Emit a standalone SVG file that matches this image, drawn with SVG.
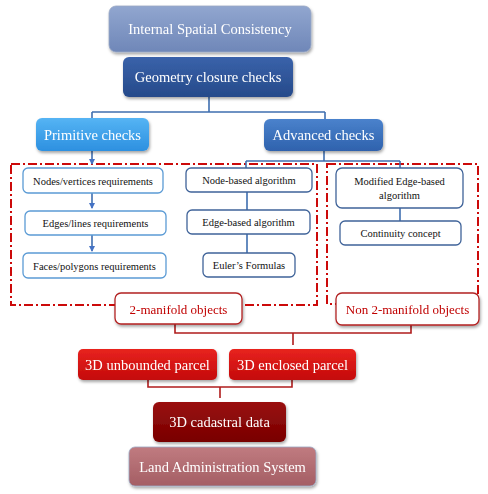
<svg xmlns="http://www.w3.org/2000/svg" width="488" height="494" viewBox="0 0 488 494">
<defs>
<linearGradient id="gTop" x1="0" y1="0" x2="0" y2="1"><stop offset="0" stop-color="#91a6cf"/><stop offset="1" stop-color="#6f87b8"/></linearGradient>
<linearGradient id="gGeo" x1="0" y1="0" x2="0" y2="1"><stop offset="0" stop-color="#3a62aa"/><stop offset="1" stop-color="#264a8a"/></linearGradient>
<linearGradient id="gPrim" x1="0" y1="0" x2="0" y2="1"><stop offset="0" stop-color="#55b4f4"/><stop offset="1" stop-color="#2d90e0"/></linearGradient>
<linearGradient id="gAdv" x1="0" y1="0" x2="0" y2="1"><stop offset="0" stop-color="#4a82cc"/><stop offset="1" stop-color="#2f62ad"/></linearGradient>
<linearGradient id="gRed" x1="0" y1="0" x2="0" y2="1"><stop offset="0" stop-color="#e8231f"/><stop offset="1" stop-color="#c40a0a"/></linearGradient>
<linearGradient id="gDark" x1="0" y1="0" x2="0" y2="1"><stop offset="0" stop-color="#9a0f0f"/><stop offset="1" stop-color="#780000"/></linearGradient>
<linearGradient id="gLand" x1="0" y1="0" x2="0" y2="1"><stop offset="0" stop-color="#c07b80"/><stop offset="1" stop-color="#a45e64"/></linearGradient>
<filter id="sh" x="-10%" y="-20%" width="120%" height="150%"><feDropShadow dx="1" dy="2" stdDeviation="1.5" flood-color="#000" flood-opacity="0.35"/></filter>
<marker id="arr" markerWidth="6" markerHeight="6" refX="5" refY="3" orient="auto" markerUnits="userSpaceOnUse"><path d="M0,0 L6,3 L0,6 z" fill="#4472c4"/></marker>
<style>
.t{font-family:"Liberation Serif","Times New Roman",serif;text-anchor:middle;dominant-baseline:central}
.w{fill:#fff}
.big{font-size:14.5px}
.sm{font-size:10.5px;fill:#111}
.rt{font-size:13px;fill:#c00000}
.box{stroke:#9aa8c4;stroke-width:0.8}
.lb{fill:#fff;stroke:#5b9bd5;stroke-width:1.3}
.db{fill:#fff;stroke:#3f6399;stroke-width:1.3}
.rb{fill:#fff;stroke:#b22222;stroke-width:1.3}
.dash{fill:none;stroke:#cc0a0a;stroke-width:2;stroke-dasharray:9 3 2 3}
.cb{fill:none;stroke:#3f6fb0;stroke-width:1.6}
.cr{fill:none;stroke:#b01c1c;stroke-width:1.6}
</style>
</defs>
<rect width="488" height="494" fill="#fff"/>
<g id="regions">
<rect class="dash" x="11" y="164" width="306" height="141"/>
<rect class="dash" x="327" y="164" width="151" height="140"/>
</g>
<g id="connectors">
<path class="cb" d="M209,97 V112 M92,112 H325 M92,112 V118 M325,112 V119"/>
<path class="cb" d="M92,151 V164" marker-end="url(#arr)"/>
<path class="cb" d="M324,151 V161 M246,161 H400 M246,161 V168 M400,161 V168"/>
<path class="cb" d="M92,193 V208" marker-end="url(#arr)"/>
<path class="cb" d="M92,235 V251" marker-end="url(#arr)"/>
<path class="cb" d="M247,192 V210 M247,234 V253"/>
<path class="cb" d="M400,208 V221"/>
<path class="cr" d="M175,324 V333 H411 V325 M293,333 V345"/>
<path class="cr" d="M148,380 V387 H292 V380 M220,387 V398"/>
</g>
<g id="n-isc" filter="url(#sh)"><rect class="box" x="109" y="6" width="202" height="46" rx="7" fill="url(#gTop)"/><text class="t w big" x="210" y="29">Internal Spatial Consistency</text></g>
<g id="n-geo" filter="url(#sh)"><rect x="123" y="57" width="170" height="40" rx="6" fill="url(#gGeo)"/><text class="t w big" x="208" y="77">Geometry closure checks</text></g>
<g id="n-prim" filter="url(#sh)"><rect x="36" y="118" width="113" height="33" rx="6" fill="url(#gPrim)"/><text class="t w big" x="92.5" y="135">Primitive checks</text></g>
<g id="n-adv" filter="url(#sh)"><rect x="264" y="119" width="119" height="32" rx="6" fill="url(#gAdv)"/><text class="t w big" x="323.5" y="135">Advanced checks</text></g>
<g id="n-nodes"><rect class="lb" x="23" y="168" width="140" height="25" rx="5"/><text class="t sm" x="93" y="181">Nodes/vertices requirements</text></g>
<g id="n-edges"><rect class="lb" x="25" y="211" width="141" height="24" rx="5"/><text class="t sm" x="95.5" y="223">Edges/lines requirements</text></g>
<g id="n-faces"><rect class="lb" x="23" y="253" width="143" height="25" rx="5"/><text class="t sm" x="94.5" y="266">Faces/polygons requirements</text></g>
<g id="n-nodealg"><rect class="db" x="186" y="168" width="126" height="24" rx="5"/><text class="t sm" x="249" y="180">Node-based algorithm</text></g>
<g id="n-edgealg"><rect class="db" x="187" y="210" width="123" height="24" rx="5"/><text class="t sm" x="248.5" y="222">Edge-based algorithm</text></g>
<g id="n-euler"><rect class="db" x="203" y="253" width="92" height="24" rx="5"/><text class="t sm" x="249" y="265">Euler’s Formulas</text></g>
<g id="n-modedge"><rect class="db" x="336" y="168" width="127" height="40" rx="6"/><text class="t sm" x="399.5" y="181">Modified Edge-based</text><text class="t sm" x="399.5" y="195">algorithm</text></g>
<g id="n-cont"><rect class="db" x="340" y="221" width="121" height="24" rx="5"/><text class="t sm" x="400.5" y="233">Continuity concept</text></g>
<g id="n-2man" filter="url(#sh)"><rect class="rb" x="115" y="293" width="127" height="31" rx="6"/><text class="t rt" x="178.5" y="309">2-manifold objects</text></g>
<g id="n-non2" filter="url(#sh)"><rect class="rb" x="336" y="293" width="143" height="32" rx="6"/><text class="t rt" x="407.5" y="309">Non 2-manifold objects</text></g>
<g id="n-unb" filter="url(#sh)"><rect x="78" y="349" width="139" height="31" rx="5" fill="url(#gRed)"/><text class="t w big" x="147.5" y="365">3D unbounded parcel</text></g>
<g id="n-enc" filter="url(#sh)"><rect x="229" y="349" width="127" height="31" rx="5" fill="url(#gRed)"/><text class="t w big" x="292.5" y="365">3D enclosed parcel</text></g>
<g id="n-cad" filter="url(#sh)"><rect x="153" y="402" width="133" height="40" rx="6" fill="url(#gDark)"/><text class="t w big" x="219.5" y="422">3D cadastral data</text></g>
<g id="n-las" filter="url(#sh)"><rect class="box" x="129" y="447" width="187" height="39" rx="6" fill="url(#gLand)"/><text class="t w big" x="222.5" y="467">Land Administration System</text></g>
</svg>
